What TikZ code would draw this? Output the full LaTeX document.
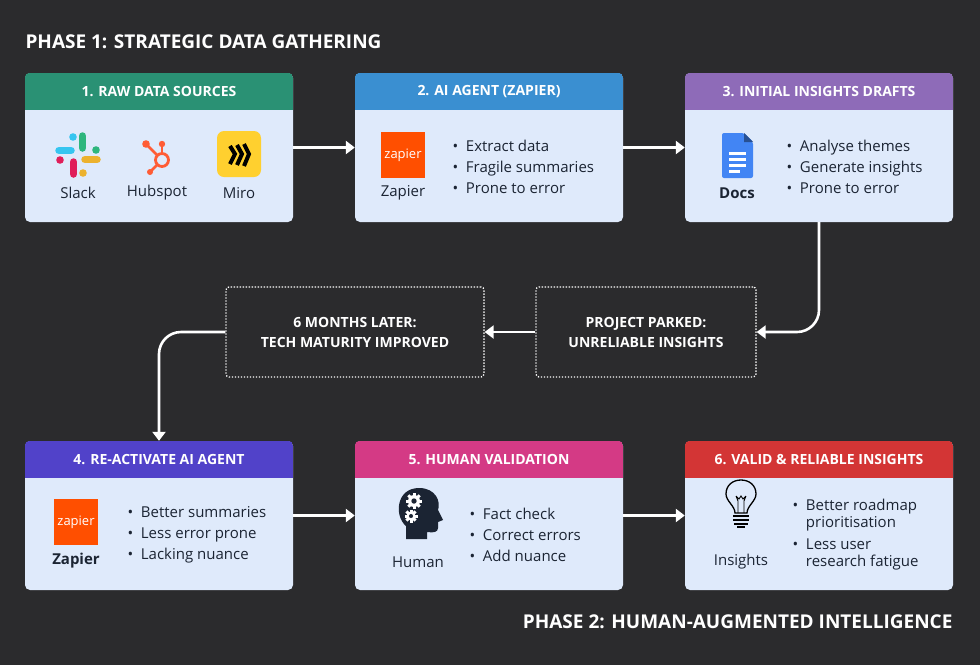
\documentclass[tikz,border=0pt]{standalone}
\usepackage{fontspec}
\setmainfont{Open Sans}
\usetikzlibrary{arrows.meta}
\definecolor{bg}{HTML}{2B2B2D}
\definecolor{body}{HTML}{DFEAFB}
\definecolor{ink}{HTML}{1B2433}
\definecolor{cA}{HTML}{2A9174}
\definecolor{cB}{HTML}{3A8FD1}
\definecolor{cC}{HTML}{8E6BB8}
\definecolor{cD}{HTML}{5142C9}
\definecolor{cE}{HTML}{D43A85}
\definecolor{cF}{HTML}{D33535}
\definecolor{zap}{HTML}{FF4F00}
\definecolor{hub}{HTML}{FF5C35}
\definecolor{miro}{HTML}{FFD02F}
\definecolor{gdoc}{HTML}{4285F4}
\tikzset{
 cardbox/.style={fill=body,rounded corners=5pt,minimum width=268pt,minimum height=149pt,inner sep=0pt},
 hdr/.style={text=white,font=\bfseries\fontsize{14}{16}\selectfont},
 lbl/.style={text=ink,font=\fontsize{15}{17}\selectfont},
 bl/.style={text=ink,font=\fontsize{15}{21}\selectfont,align=left,anchor=west},
 dotbox/.style={draw=white,dash pattern=on 1.3pt off 1.7pt,line width=1.3pt,rounded corners=3pt,inner sep=0pt,text=white,font=\bfseries\fontsize{14}{20}\selectfont,align=center},
 arr/.style={white,line width=2.6pt,-{Triangle[length=9pt,width=13pt]}},
 ttl/.style={text=white,font=\bfseries\fontsize{19}{22}\selectfont}
}
\newcommand\mycard[5]{%
 \node[cardbox] (#1) at (#2,#3) {};
 \begin{scope}
 \clip[rounded corners=5pt] (#1.south west) rectangle (#1.north east);
 \fill[#4] (#1.north west) rectangle ([yshift=-37pt]#1.north east);
 \end{scope}
 \node[hdr] (#1h) at ([yshift=-18.5pt]#1.north) {#5};
}
\newcommand\zapicon[3]{%
 \fill[zap] (#2-22,#3-23) rectangle (#2+22,#3+23);
 \node[white,font=\fontsize{13}{13}\selectfont] (#1) at (#2,#3) {zapier};
}
\begin{document}
\begin{tikzpicture}[x=1pt,y=-1pt]
\fill[bg] (0,0) rectangle (980,665);
\useasboundingbox (0,0) rectangle (980,665);
\node[ttl,anchor=west] (t1) at (22,42) {PHASE 1: STRATEGIC DATA GATHERING};
\node[ttl,anchor=east] (t2) at (956,622) {PHASE 2: HUMAN-AUGMENTED INTELLIGENCE};

\mycard{b1}{159}{147.5}{cA}{1. RAW DATA SOURCES}
\mycard{b2}{489}{147.5}{cB}{2. AI AGENT (ZAPIER)}
\mycard{b3}{819}{147.5}{cC}{3. INITIAL INSIGHTS DRAFTS}
\mycard{b4}{159}{515.5}{cD}{4. RE-ACTIVATE AI AGENT}
\mycard{b5}{489}{515.5}{cE}{5. HUMAN VALIDATION}
\mycard{b6}{819}{515.5}{cF}{6. VALID \& RELIABLE INSIGHTS}

% box 1 icons
\begin{scope}[shift={(78,155)},line cap=round,line width=7.5pt]
 \draw[color={rgb,255:red,54;green,197;blue,240}] (-19,-4.5) -- (-7,-4.5);
 \fill[color={rgb,255:red,54;green,197;blue,240}] (-5,-18) circle (3.8);
 \draw[color={rgb,255:red,46;green,182;blue,125}] (4.5,-19) -- (4.5,-7);
 \fill[color={rgb,255:red,46;green,182;blue,125}] (18,-5) circle (3.8);
 \draw[color={rgb,255:red,224;green,30;blue,90}] (-4.5,7) -- (-4.5,19);
 \fill[color={rgb,255:red,224;green,30;blue,90}] (-18,5) circle (3.8);
 \draw[color={rgb,255:red,236;green,178;blue,46}] (7,4.5) -- (19,4.5);
 \fill[color={rgb,255:red,236;green,178;blue,46}] (5,18) circle (3.8);
\end{scope}
\node[lbl] (l1) at (78,193) {Slack};
\begin{scope}[shift={(162,160)},hub,line width=2.8pt]
 \draw (0,0) circle (6.5);
 \draw (0,-6) -- (0,-14); \fill (0,-16) circle (3.2);
 \draw (-4,-4) -- (-14,-14); \fill (-16,-16) circle (3.8);
 \draw (-4,4) -- (-11,11); \fill (-12,12) circle (3);
\end{scope}
\node[lbl] (l2) at (157,193) {Hubspot};
\fill[miro,rounded corners=7pt] (217,131) rectangle (261,177);
\begin{scope}[shift={(239,154)},line width=4pt,black]
 \draw (-9,-8) -- (-4,0) -- (-9,10);
 \draw (-2,-9) -- (3,0) -- (-2,11);
 \draw (5,-10) -- (10,0) -- (5,12);
\end{scope}
\node[lbl] (l3) at (239,193) {Miro};

% box 2
\zapicon{z1}{403}{155}
\node[lbl] (l4) at (403,193) {Zapier};
\node[bl] (t2b) at (449,167) {•\ \ Extract data\\•\ \ Fragile summaries\\•\ \ Prone to error};

% box 3
\fill[gdoc,rounded corners=2pt] (722,133) -- (744,133) -- (753,142) -- (753,178) -- (722,178) -- cycle;
\fill[gdoc!60!black] (744,133) -- (744,142) -- (753,142) -- cycle;
\foreach \yy in {152,158,164} \fill[white] (729,\yy) rectangle (746,\yy+2.5);
\fill[white] (729,170) rectangle (740,172.5);
\node[lbl,font=\bfseries\fontsize{15}{17}\selectfont] (l5) at (737,193) {Docs};
\node[bl] (t3b) at (783,167) {•\ \ Analyse themes\\•\ \ Generate insights\\•\ \ Prone to error};

% middle
\node[dotbox,minimum width=258pt,minimum height=90pt] (six) at (355,332) {6 MONTHS LATER:\\TECH MATURITY IMPROVED};
\node[dotbox,minimum width=220pt,minimum height=90pt] (park) at (646,332) {PROJECT PARKED:\\UNRELIABLE INSIGHTS};

% box 4
\zapicon{z2}{76}{522}
\node[lbl,font=\bfseries\fontsize{15}{17}\selectfont] (l6) at (76,561) {Zapier};
\node[bl] (t4b) at (124,535) {•\ \ Better summaries\\•\ \ Less error prone\\•\ \ Lacking nuance};

% box 5 head
\begin{scope}[shift={(418,512)}]
 \fill[ink] (-12,27) -- (-12,14) .. controls (-24,4) and (-22,-24) .. (1,-24) .. controls (18,-24) and (23,-10) .. (20,-2) -- (25,8) -- (20,10) -- (20,16) .. controls (20,20) and (16,21) .. (9,20) -- (9,27) -- cycle;
 \foreach \cx/\cy/\r in {-4/-11/6,-7/4/4.5}{
  \begin{scope}[shift={(\cx,\cy)}]
  \foreach \a in {0,45,...,315} \fill[white,rotate=\a] (-1.5,-\r-2) rectangle (1.5,0);
  \fill[white] (0,0) circle (\r);
  \fill[ink] (0,0) circle (\r*0.45);
  \end{scope}}
\end{scope}
\node[lbl] (l7) at (418,562) {Human};
\node[bl] (t5b) at (466,535) {•\ \ Fact check\\•\ \ Correct errors\\•\ \ Add nuance};

% box 6 bulb
\begin{scope}[shift={(741,503)},line width=1.3pt,black]
 \draw (-6,10) .. controls (-6,3) and (-15,-2) .. (-15,-9) .. controls (-15,-18) and (-8,-23) .. (0,-23) .. controls (8,-23) and (15,-18) .. (15,-9) .. controls (15,-2) and (6,3) .. (6,10) -- cycle;
 \draw[line width=0.9pt] (-3,10) -- (-3,-2) -- (-5,-7) (3,10) -- (3,-2) -- (5,-7) (-5,-7) -- (-2,-4) -- (0,-7) -- (2,-4) -- (5,-7);
 \draw (-8,13) -- (8,13) (-8,17) -- (8,17) (-7,21) -- (7,21);
 \draw (-4,24) -- (4,24);
\end{scope}
\node[lbl] (l8) at (741,562) {Insights};
\node[bl,font=\fontsize{15}{17}\selectfont] (t6b) at (789,535) {•\ \ Better roadmap\\\phantom{•}\ \ prioritisation\\[5pt]•\ \ Less user\\\phantom{•}\ \ research fatigue};

% arrows
\draw[arr] (b1.east) -- (b2.west);
\draw[arr] (b2.east) -- (b3.west);
\draw[arr,rounded corners=22pt] (b3.south) |- (park.east);
\draw[arr] (park.west) -- (six.east);
\draw[arr,rounded corners=22pt] (six.west) -| (b4.north);
\draw[arr] (b4.east) -- (b5.west);
\draw[arr] (b5.east) -- (b6.west);
\end{tikzpicture}
\end{document}
